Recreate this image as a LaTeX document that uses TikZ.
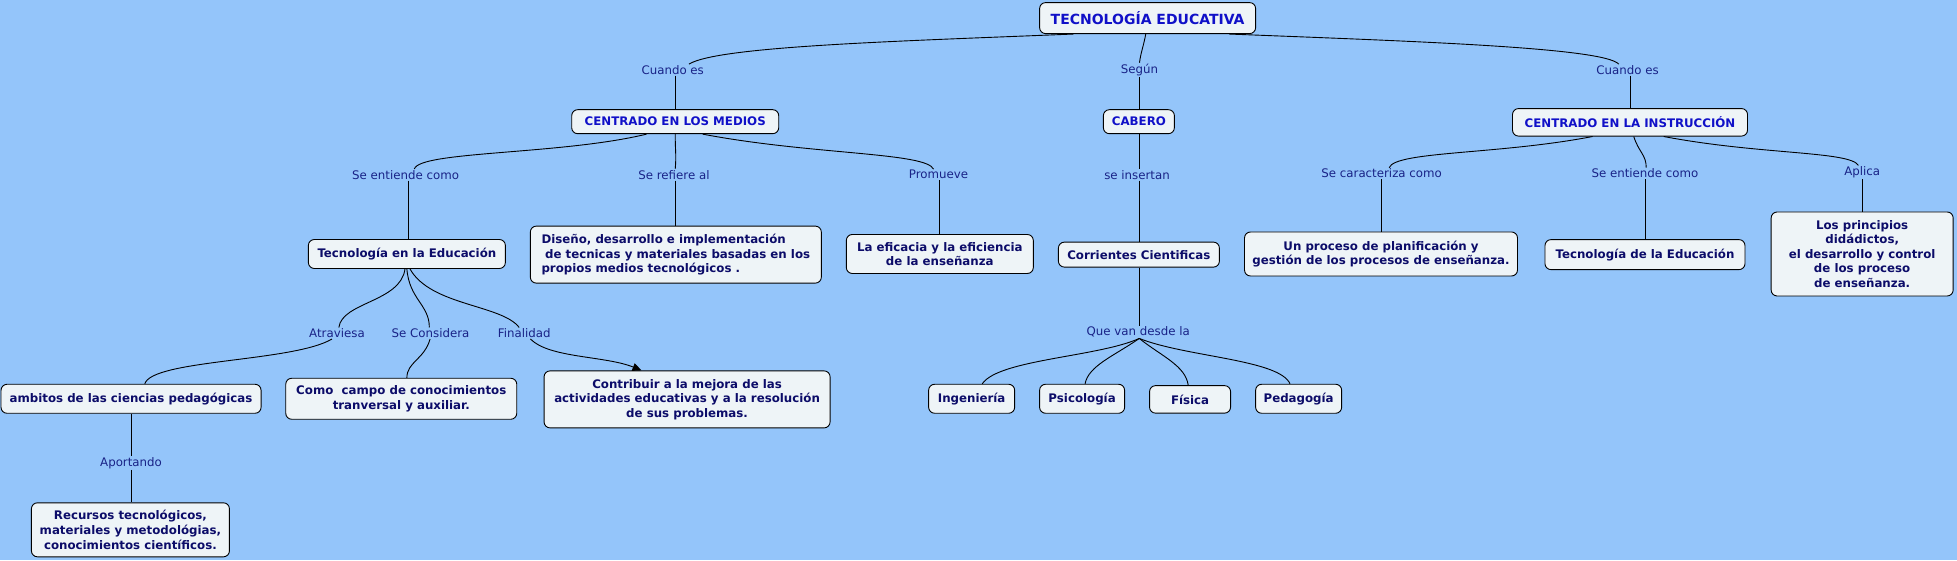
\documentclass[tikz,border=0pt]{standalone}
\usepackage{fontspec}
\setmainfont{DejaVu Sans}
\usetikzlibrary{arrows.meta}
\definecolor{bg}{RGB}{148,197,250}
\definecolor{boxfill}{RGB}{238,244,247}
\definecolor{navytext}{RGB}{12,12,105}
\definecolor{toptext}{RGB}{16,16,200}
\definecolor{labtext}{RGB}{25,35,135}
\begin{document}
\begin{tikzpicture}[x=1.248pt,y=-1.248pt,
  concept/.style={draw=black, line width=0.9pt, fill=boxfill, rounded corners=6pt,
    font=\fontsize{11.8}{14.6}\selectfont\bfseries, text=navytext, align=center, inner sep=2pt},
  topc/.style={concept, text=toptext},
  lab/.style={font=\fontsize{11.8}{14}\selectfont, text=labtext, inner sep=1pt},
  conn/.style={line width=0.9pt, draw=black}]
\fill[bg] (0,0) rectangle (1568,449);
\useasboundingbox (0,0) rectangle (1568,449);

% concept nodes
\node[topc, font=\fontsize{14}{16}\selectfont\bfseries, minimum width=216pt, minimum height=31pt] (t) at (919.5,14.5) {TECNOLOGÍA EDUCATIVA};
\node[topc, minimum width=207pt, minimum height=24pt] (cm) at (541,97.5) {CENTRADO EN LOS MEDIOS};
\node[topc, minimum width=71pt, minimum height=24pt] (cab) at (912.5,97.5) {CABERO};
\node[topc, minimum width=235pt, minimum height=27.5pt] (ci) at (1306,98) {CENTRADO EN LA INSTRUCCIÓN};

\node[concept, minimum width=197pt, minimum height=29pt] (tie) at (326,203.5) {Tecnología en la Educación};
\node[concept, align=left, minimum width=291pt, minimum height=57pt] (dis) at (541.5,204) {Diseño, desarrollo e implementación\\\hspace*{0.3em}de tecnicas y materiales basadas en los\\propios medios tecnológicos .};
\node[concept, minimum width=187pt, minimum height=39pt] (efi) at (753,203.5) {La eficacia y la eficiencia\\de la enseñanza};
\node[concept, minimum width=161pt, minimum height=25pt] (cc) at (912.5,204) {Corrientes Cientificas};
\node[concept, minimum width=273pt, minimum height=44pt] (up) at (1106.5,203.5) {Un proceso de planificación y\\gestión de los procesos de enseñanza.};
\node[concept, minimum width=200pt, minimum height=30pt] (tde) at (1318,204) {Tecnología de la Educación};
\node[concept, minimum width=182pt, minimum height=84pt] (lp) at (1492,203.5) {Los principios\\didádictos,\\el desarrollo y control\\de los proceso\\de enseñanza.};

\node[concept, minimum width=260pt, minimum height=29pt] (amb) at (105,319.5) {ambitos de las ciencias pedagógicas};
\node[concept, minimum width=231pt, minimum height=41pt] (com) at (321.5,319.5) {Como\ \ campo de conocimientos\\tranversal y auxiliar.};
\node[concept, minimum width=286pt, minimum height=57pt] (con) at (550.5,320) {Contribuir a la mejora de las\\actividades educativas y a la resolución\\de sus problemas.};
\node[concept, minimum width=86pt, minimum height=29pt] (ing) at (778.5,319.5) {Ingeniería};
\node[concept, minimum width=85pt, minimum height=29pt] (psi) at (867,319.5) {Psicología};
\node[concept, minimum width=81pt, minimum height=27.5pt] (fis) at (953.5,320) {Física};
\node[concept, minimum width=86pt, minimum height=29pt] (ped) at (1040.5,319.5) {Pedagogía};
\node[concept, minimum width=198pt, minimum height=54pt] (rec) at (104.5,424.5) {Recursos tecnológicos,\\materiales y metodológias,\\conocimientos científicos.};

% linking phrases
\node[lab] (l1) at (539,56) {Cuando es};
\node[lab] (l2) at (913,56) {Según};
\node[lab] (l3) at (1304,56) {Cuando es};
\node[lab] (l4) at (325,140) {Se entiende como};
\node[lab] (l5) at (540,140) {Se refiere al};
\node[lab] (l6) at (752,140) {Promueve};
\node[lab] (l7) at (911,140) {se insertan};
\node[lab] (l8) at (1107,139) {Se caracteriza como};
\node[lab] (l9) at (1318,139) {Se entiende como};
\node[lab] (l10) at (1492,138) {Aplica};
\node[lab] (l11) at (270,267) {Atraviesa};
\node[lab] (l12) at (345,267) {Se Considera};
\node[lab] (l13) at (420,267) {Finalidad};
\node[lab] (l14) at (912,266) {Que van desde la};
\node[lab] (l15) at (105,371) {Aportando};

% connectors
\draw[conn] (t.south -| 860,0) .. controls (720,33) and (575,37) .. (l1.north -| 552,0);
\draw[conn] (l1.south -| 541,0) -- (cm.north -| 541,0);
\draw[conn] (t.south -| 918,0) .. controls (916,38) and (914,42) .. (l2.north -| 913,0);
\draw[conn] (l2.south -| 913,0) -- (cab.north -| 913,0);
\draw[conn] (t.south -| 985,0) .. controls (1130,33) and (1285,38) .. (l3.north -| 1297,0);
\draw[conn] (l3.south -| 1306,0) -- (ci.north -| 1306,0);

\draw[conn] (cm.south -| 518,0) .. controls (450,124) and (336,121) .. (l4.north -| 332,0);
\draw[conn] (l4.south -| 327,0) -- (tie.north -| 327,0);
\draw[conn] (cm.south -| 541,0) .. controls (541,122) and (542,124) .. (l5.north -| 541,0);
\draw[conn] (l5.south -| 541.5,0) -- (dis.north -| 541.5,0);
\draw[conn] (cm.south -| 563,0) .. controls (650,124) and (742,122) .. (l6.north -| 748,0);
\draw[conn] (l6.south -| 753,0) -- (efi.north -| 753,0);
\draw[conn] (cab.south -| 913,0) -- (l7.north -| 913,0);
\draw[conn] (l7.south -| 913,0) -- (cc.north -| 913,0);

\draw[conn] (ci.south -| 1276,0) .. controls (1200,124) and (1118,121) .. (l8.north -| 1113,0);
\draw[conn] (l8.south -| 1107,0) -- (up.north -| 1107,0);
\draw[conn] (ci.south -| 1309,0) .. controls (1313,122) and (1319,124) .. (l9.north -| 1319,0);
\draw[conn] (l9.south -| 1318,0) -- (tde.north -| 1318,0);
\draw[conn] (ci.south -| 1333,0) .. controls (1410,124) and (1482,121) .. (l10.north -| 1489,0);
\draw[conn] (l10.south -| 1492,0) -- (lp.north -| 1492,0);

\draw[conn] (tie.south -| 324.5,0) .. controls (321,242) and (274,242) .. (l11.north -| 271.5,0);
\draw[conn] (l11.south -| 266,0) .. controls (235,290) and (122,288) .. (amb.north -| 116,0);
\draw[conn] (tie.south -| 326,0) .. controls (328,240) and (344,244) .. (l12.north -| 344,0);
\draw[conn] (l12.south -| 344.6,0) .. controls (340,288) and (326,290) .. (com.north -| 326,0);
\draw[conn] (tie.south -| 328.5,0) .. controls (345,245) and (402,244) .. (l13.north -| 416,0);
\draw[conn, -{Triangle[length=9pt,width=8pt]}] (l13.south -| 425,0) .. controls (440,287) and (485,285) .. (con.north -| 514,0);

\draw[conn] (cc.south -| 913,0) -- (l14.north -| 913,0);
\draw[conn] (l14.south -| 912.8,0) .. controls (880,286) and (800,288) .. (ing.north -| 787,0);
\draw[conn] (l14.south -| 912.8,0) .. controls (893,285) and (872,293) .. (psi.north -| 869.4,0);
\draw[conn] (l14.south -| 912.8,0) .. controls (930,285) and (950,293) .. (fis.north -| 952,0);
\draw[conn] (l14.south -| 912.8,0) .. controls (950,286) and (1025,288) .. (ped.north -| 1033.6,0);

\draw[conn] (amb.south -| 105.5,0) -- (l15.north -| 105.5,0);
\draw[conn] (l15.south -| 105.5,0) -- (rec.north -| 105.5,0);
\end{tikzpicture}
\end{document}
